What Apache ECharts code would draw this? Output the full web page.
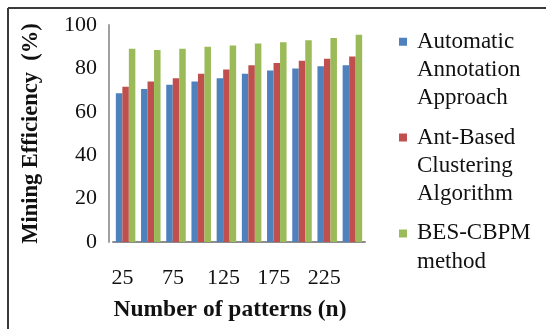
<!DOCTYPE html>
<html>
<head>
<meta charset="utf-8">
<script src="https://cdn.jsdelivr.net/npm/echarts@6/dist/echarts.min.js"></script>
<style>
  html, body { margin: 0; padding: 0; background: #fff; }
  #chart { width: 546px; height: 329px; }
</style>
</head>
<body>
<div id="chart"></div>
<script>
// Number of patterns on the x axis
const patterns = ['25', '50', '75', '100', '125', '150', '175', '200', '225', '250'];

// Mining efficiency (%) per approach
const automaticAnnotation = [68.5, 70.5, 72.5, 74, 75.5, 77.5, 79, 80, 81, 81.5];
const antBasedClustering = [71.5, 74, 75.5, 77.5, 79.5, 81.5, 82.5, 83.5, 84.5, 85.5];
const besCbpm = [89, 88.5, 89, 90, 90.5, 91.5, 92, 93, 94, 95.5];

const seriesNames = [
  'Automatic\nAnnotation\nApproach',
  'Ant-Based\nClustering\nAlgorithm',
  'BES-CBPM\nmethod'
];
const seriesColors = ['#4F81BD', '#C0504D', '#9BBB59'];

const yTicks = { min: 0, max: 100, interval: 20 };

const serif = '"Liberation Serif", "Times New Roman", serif';

// Legend marker: a small square level with the first text line of a tall item box
const lineH = 28.3;
function markerIcon(lines) {
  const h = lines * lineH;
  const c = lineH / 2;
  return 'path://M0,0L0.01,0 M0,' + (c - 4) + 'L8,' + (c - 4) + 'L8,' + (c + 4) + 'L0,' + (c + 4) +
    'Z M0,' + h + 'L0.01,' + h;
}

const chart = echarts.init(document.getElementById('chart'), null, { renderer: 'canvas' });

const values = [automaticAnnotation, antBasedClustering, besCbpm];

chart.setOption({
  backgroundColor: '#ffffff',
  animation: false,
  grid: { left: 113, top: 25, width: 252, bottom: 87, containLabel: false },
  legend: {
    orient: 'vertical',
    left: 394,
    top: 22.5,
    itemGap: 11,
    itemWidth: 8,
    itemHeight: 85,
    data: seriesNames.map((n) => ({
      name: n,
      icon: markerIcon(n.split('\n').length),
      itemHeight: n.split('\n').length * lineH
    })),
    textStyle: {
      fontFamily: serif,
      fontSize: 23,
      color: '#111',
      lineHeight: lineH,
      padding: [0, 0, 0, 5]
    },
    selectedMode: false
  },
  xAxis: {
    type: 'category',
    data: patterns,
    name: 'Number of patterns (n)',
    nameLocation: 'middle',
    nameGap: 56,
    nameTextStyle: {
      fontFamily: serif, fontSize: 23.5, fontWeight: 'bold', color: '#111',
      padding: [0, 18, 0, 0]
    },
    axisLine: { lineStyle: { color: '#8c8c8c', width: 2 } },
    axisTick: { show: false },
    axisLabel: {
      interval: 1,
      margin: 25,
      fontFamily: serif,
      fontSize: 22,
      color: '#111',
      padding: [0, 6, 0, 0]
    }
  },
  yAxis: {
    type: 'value',
    min: yTicks.min,
    max: yTicks.max,
    interval: yTicks.interval,
    offset: 4,
    name: 'Mining Efficiency  (%)',
    nameLocation: 'middle',
    nameGap: 66,
    nameTextStyle: { fontFamily: serif, fontSize: 22.5, fontWeight: 'bold', color: '#111' },
    axisLine: { show: true, lineStyle: { color: '#a0a0a0', width: 2 } },
    axisTick: { show: false },
    splitLine: { show: false },
    axisLabel: {
      margin: 12,
      fontFamily: serif,
      fontSize: 22,
      color: '#111'
    }
  },
  series: seriesNames.map((n, i) => ({
    name: n,
    type: 'bar',
    data: values[i],
    barWidth: 6.5,
    barGap: '0%',
    itemStyle: { color: seriesColors[i] }
  })),
  graphic: [
    // frame lines along the top and left edges
    { type: 'line', shape: { x1: 8, y1: 8, x2: 546, y2: 8 }, style: { stroke: '#3a3a3a', lineWidth: 2 }, silent: true },
    { type: 'line', shape: { x1: 8, y1: 8, x2: 8, y2: 329 }, style: { stroke: '#3a3a3a', lineWidth: 2 }, silent: true }
  ]
});
</script>
</body>
</html>
